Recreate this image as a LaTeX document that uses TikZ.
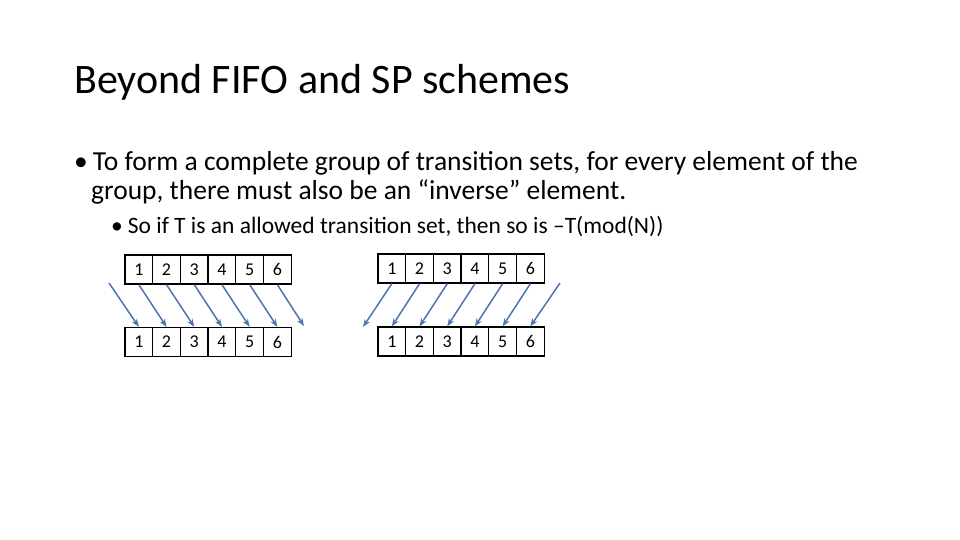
\documentclass[tikz,border=0pt]{standalone}
\usepackage{fontspec}
\setmainfont{Carlito}
\usetikzlibrary{arrows.meta}
\begin{document}
\begin{tikzpicture}[x=1pt,y=-1pt,
  cell/.style={draw,line width=1.3pt,minimum width=27.7pt,minimum height=29pt,inner sep=0pt,font=\fontsize{18}{18}\selectfont},
  arr/.style={draw={rgb,255:red,79;green,114;blue,178},line width=1.5pt,-{Stealth[length=8pt,width=6pt]}}]
\useasboundingbox (0,0) rectangle (960,540);
\node[anchor=base west,font=\fontsize{42}{42}\selectfont,inner sep=0pt] (title) at (74,94) {Beyond FIFO and SP schemes};
\node[anchor=base west,font=\fontsize{27.5}{27.5}\selectfont,inner sep=0pt] (b1) at (74,171) {•\hspace{5pt}To form a complete group of transition sets, for every element of the};
\node[anchor=base west,font=\fontsize{27.5}{27.5}\selectfont,inner sep=0pt] (b2) at (91,199) {group, there must also be an “inverse” element.};
\node[anchor=base west,font=\fontsize{23.5}{23.5}\selectfont,inner sep=0pt] (b3) at (111,233) {•\hspace{5pt}So if T is an allowed transition set, then so is –T(mod(N))};
\foreach \i in {1,...,6}{
  \node[cell] (a\i) at ({125+27.7*(\i-0.5)},269.5) {\i};
  \node[cell] (b\i) at ({125+27.7*(\i-0.5)},342) {\i};
  \node[cell] (c\i) at ({378+27.7*(\i-0.5)},268.5) {\i};
  \node[cell] (d\i) at ({378+27.7*(\i-0.5)},341.5) {\i};
}
\coordinate (la) at (109,283);
\coordinate (lb) at (304,326);
\coordinate (ra) at (363,327);
\coordinate (rb) at (560,283);
\draw[arr] (la) -- (b1.north);
\foreach \i/\j in {1/2,2/3,3/4,4/5,5/6}{\draw[arr] (a\i.south) -- (b\j.north);}
\draw[arr] (a6.south) -- (lb);
\draw[arr] (c1.south) -- (ra);
\foreach \i/\j in {2/1,3/2,4/3,5/4,6/5}{\draw[arr] (c\i.south) -- (d\j.north);}
\draw[arr] (rb) -- (d6.north);
\end{tikzpicture}
\end{document}
